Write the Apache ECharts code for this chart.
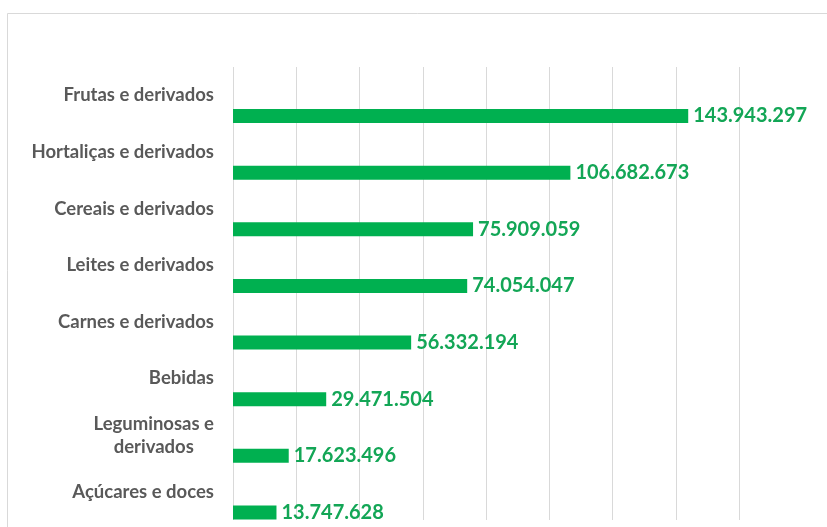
<!DOCTYPE html>
<html>
<head>
<meta charset="utf-8">
<style>html,body{margin:0;padding:0;background:#fff;}#c{width:827px;height:527px;}</style>
<script src="https://cdn.jsdelivr.net/npm/echarts@6/dist/echarts.min.js"></script>
</head>
<body>
<div id="c"></div>
<script>
const categories = ["Frutas e derivados","Hortaliças e derivados","Cereais e derivados","Leites e derivados","Carnes e derivados","Bebidas","Leguminosas e\nderivados","Açúcares e doces"];
const values = [143943297,106682673,75909059,74054047,56332194,29471504,17623496,13747628];
const axisMin = 0, axisMax = 160000000, axisInterval = 20000000;

const catSize = 18.5;
const catFont = 'bold ' + catSize + 'px Lato';
const cv = document.createElement('canvas').getContext('2d');
cv.font = catFont;
function fmt(v){ return String(v).replace(/\B(?=(\d{3})+(?!\d))/g, '.'); }

const chart = echarts.init(document.getElementById('c'));
chart.setOption({
  animation: false,
  backgroundColor: '#fff',
  graphic: [{type:'rect', shape:{x:7.5,y:13.5,width:840,height:540}, style:{fill:'none',stroke:'#d9d9d9',lineWidth:1}, silent:true}],
  grid: {left: 233, right: 88, top: 67, bottom: 7, containLabel: false},
  xAxis: {type:'value', min: axisMin, max: axisMax, interval: axisInterval,
    axisLabel:{show:false}, axisLine:{show:false}, axisTick:{show:false},
    splitLine:{show:true, lineStyle:{color:'#d9d9d9', width:1}}},
  yAxis: {type:'category', data: categories, inverse: true,
    axisLine:{show:false}, axisTick:{show:false},
    axisLabel:{margin: 19, color:'#595959', fontFamily:'Lato', fontWeight:'bold', fontSize:catSize, lineHeight:23,
      formatter: function(v){
        if (v.indexOf('\n') >= 0) {
          return v.split('\n').map(l => '{c|' + l + '}').join('\n');
        }
        return v;
      },
      rich: {c: {width: cv.measureText('Leguminosas e').width, align:'center', color:'#595959', fontFamily:'Lato', fontWeight:'bold', fontSize:catSize, lineHeight:23}}
    }},
  series: [
    {type:'bar', data: categories.map(() => null), barWidth: 14, barGap: '196%', silent:true},
    {type:'bar', data: values, barWidth: 14, itemStyle:{color:'#00B050'},
      label:{show:true, position:'right', distance:5, color:'#13A656', fontFamily:'Lato', fontWeight:'bold', fontSize:20,
        formatter: p => fmt(p.value)}}
  ]
});
</script>
</body>
</html>
